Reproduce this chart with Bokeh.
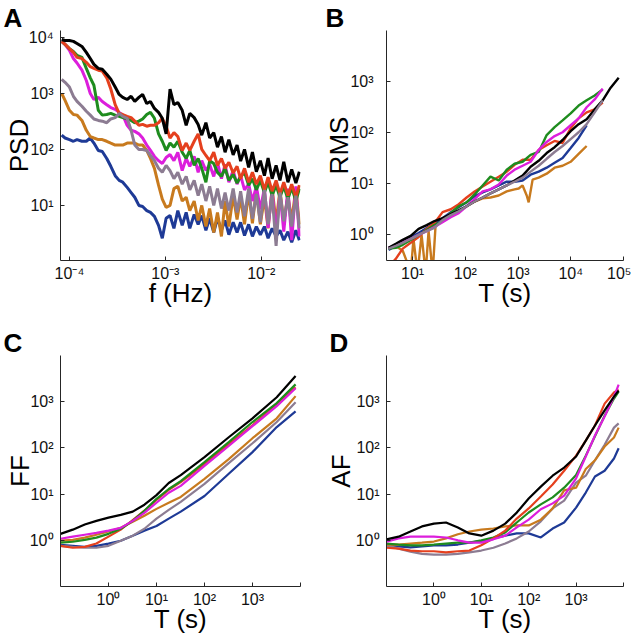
import math
from bokeh.plotting import figure
from bokeh.layouts import gridplot
from bokeh.models import Range1d, FixedTicker, Title
from bokeh.embed import file_html
from bokeh.resources import INLINE

FONT = "Liberation Sans"
C_BLACK = "#000000"
C_RED = "#e5401e"
C_GREEN = "#1e8c1e"
C_MAGENTA = "#dc1edc"
C_GRAY = "#8c7c92"
C_ORANGE = "#c87a1e"
C_BLUE = "#1e3a96"

# ---------------- Panel A : PSD ----------------
psd_freq = [8.3e-5, 9e-5, 1e-4, 1.1e-4, 1.2e-4, 1.35e-4, 1.5e-4, 1.65e-4, 1.8e-4, 2e-4,
            2.2e-4, 2.45e-4, 2.7e-4, 3e-4, 3.3e-4, 3.6e-4, 4e-4, 4.4e-4, 4.8e-4, 5.3e-4,
            5.8e-4, 6.4e-4, 7e-4, 7.7e-4, 8.5e-4, 9.3e-4, 1.02e-3, 1.12e-3, 1.23e-3, 1.35e-3,
            1.5e-3, 1.65e-3, 1.8e-3, 2e-3, 2.2e-3, 2.4e-3, 2.65e-3, 2.9e-3, 3.2e-3, 3.5e-3,
            3.85e-3, 4.2e-3, 4.6e-3, 5.1e-3, 5.6e-3, 6.1e-3, 6.7e-3, 7.4e-3, 8.1e-3, 8.9e-3,
            9.8e-3, 1.08e-2, 1.18e-2, 1.3e-2, 1.43e-2, 1.57e-2, 1.72e-2, 1.9e-2, 2.08e-2, 2.3e-2,
            2.5e-2]
psd_black = [9200, 8800, 8800, 8500, 7800, 6900, 5400, 4200, 3300, 2800, 2700, 2200, 1800, 1300, 960,
             850, 780, 890, 720, 850, 960, 660, 720, 540, 460, 360, 190, 1200, 630, 690, 500, 270,
             440, 370, 280, 180, 300, 160, 200, 110, 170, 89, 150, 80, 120, 62, 100, 48, 90, 40,
             63, 34, 70, 30, 52, 28, 60, 26, 44, 25, 40]
psd_red = [8500, 7500, 6300, 5400, 4400, 4200, 3600, 3000, 2800, 2600, 2500, 1900, 1200, 630, 440,
           420, 390, 370, 320, 270, 280, 260, 270, 270, 300, 360, 260, 160, 200, 170, 96, 130, 96,
           140, 190, 100, 78, 63, 89, 52, 69, 46, 59, 38, 50, 30, 46, 26, 39, 24, 34, 19, 32, 18,
           28, 16, 26, 15, 24, 14, 23]
psd_green = [8500, 7500, 6300, 5600, 4800, 4400, 2800, 1900, 1400, 500, 410, 420, 440, 410, 390,
             370, 350, 330, 300, 320, 350, 420, 460, 360, 190, 140, 96, 130, 110, 140, 89, 69, 96,
             52, 69, 46, 26, 63, 56, 39, 33, 46, 28, 36, 25, 33, 39, 23, 30, 19, 28, 17, 26, 15,
             23, 14, 22, 13, 21, 12, 20]
psd_magenta = [8500, 7500, 5900, 4200, 3500, 2600, 1700, 1000, 780, 850, 720, 630, 560, 520, 460,
               410, 270, 220, 210, 190, 160, 120, 96, 75, 63, 56, 72, 81, 63, 89, 42, 69, 50, 75,
               39, 63, 42, 54, 33, 59, 30, 54, 26, 42, 24, 34, 19, 24, 12, 22, 8.5, 20, 4.0, 19,
               3.0, 17, 3.4, 20, 2.4, 22, 2.8]
psd_gray = [1780, 1580, 1300, 890, 720, 590, 480, 410, 350, 330, 320, 300, 350, 370, 440, 390, 360,
            220, 120, 100, 100, 96, 78, 63, 46, 39, 52, 42, 30, 39, 24, 33, 19, 28, 15, 24, 12, 22,
            10, 20, 8.8, 17, 8.1, 20, 7.5, 18, 6.4, 20, 5.8, 16, 5.0, 19, 4.6, 16, 1.9, 17, 5.2,
            14, 4.2, 15, 3.9]
psd_orange = [1000, 750, 500, 420, 410, 330, 220, 170, 160, 150, 150, 140, 130, 120, 120, 120, 130,
              130, 130, 120, 120, 96, 69, 46, 23, 13, 9.2, 10, 20, 22, 12, 14, 8.1, 12, 5.4, 10,
              4.2, 8.8, 3.3, 7.5, 2.8, 12, 4.2, 15, 5.6, 14, 4.6, 17, 4.8, 19, 4.6, 14, 3.9, 20,
              5.0, 19, 5.0, 15, 5.4, 20, 4.6]
psd_blue = [180, 160, 150, 140, 150, 140, 140, 160, 130, 96, 92, 69, 50, 34, 28, 26, 21, 17, 14, 10,
            9.6, 8.1, 7.5, 6.4, 4.4, 2.6, 5.9, 6.6, 3.9, 8.1, 4.4, 7.5, 3.9, 6.9, 4.6, 6.6, 3.6,
            5.9, 3.3, 5.9, 3.6, 5.4, 3.0, 5.0, 3.3, 5.0, 2.9, 4.6, 2.8, 4.2, 3.0, 4.2, 2.6, 3.9,
            2.8, 3.6, 2.4, 3.4, 2.2, 3.6, 2.4]

# ---------------- Panel B : RMS ----------------
rms_T = [3.5, 4.8, 6.5, 9.2, 13, 18.5, 26, 37, 53, 75, 106, 150, 213, 300, 430, 610, 860, 1220,
         1730, 2460, 3490, 4940, 7000, 9950, 14100, 20000, 28400, 40300, 57100, 81100]
rms_black = [0.56, 0.67, 0.80, 0.96, 1.31, 1.56, 1.87, 2.13, 2.55, 3.04, 3.64, 4.5, 5.4, 6.5, 7.8,
             9.3, 11.6, 14.5, 21.6, 28.2, 40, 52, 72, 107, 147, 183, 286, 430, 760, 1190]
rms_gray = [0.54, 0.61, 0.70, 0.84, 1.0, 1.19, 1.37, 1.95, 2.44, 2.91, 3.64, 4.5, 5.4, 6.5, 7.8,
            9.3, 11, 13.2, 17.3, 22.6, 30.9, 42, 55, 75, 102, 147, 250, 430]
rms_blue = [0.51, 0.61, 0.73, 0.91, 1.09, 1.37, 1.63, 2.13, 2.79, 3.48, 4.35, 5.7, 6.8, 7.8, 9.3,
            11, 11, 11.6, 15.1, 17.3, 20.7, 25.8, 32, 50, 79, 140]
rms_green = [0.54, 0.56, 0.64, 0.80, 1.0, 1.25, 1.56, 1.87, 2.66, 3.64, 4.35, 6.2, 9.3, 13.8, 11.6,
             18.9, 24.7, 27, 37, 42, 90, 129, 175, 240, 340, 430, 535, 700]
rms_red = [0.24, 0.34, 0.54, 0.70, 0.91, 1.31, 1.71, 2.79, 3.18, 3.98, 5.4, 7.1, 8.9, 11, 13.8,
           17.3, 23.6, 29.5, 29.5, 46, 57, 69, 63, 123, 191, 250, 286, 390]
rms_magenta = [0.56, 0.64, 0.73, 0.84, 1.0, 1.19, 1.43, 1.78, 2.23, 2.66, 3.64, 5.0, 7.1, 7.8, 9.7,
               14.5, 18.9, 22.6, 27, 46, 66, 86, 102, 140, 191, 315, 447, 730]
rms_orange_T = [3.5, 4.8, 6.5, 7.7, 9.2, 10.4, 12.4, 14.8, 17.7, 20.1, 24, 27.3, 37, 53, 75, 106,
                150, 213, 300, 430, 610, 860, 1030, 1220, 1460, 1590, 1890, 2460, 3490, 4940,
                7000, 9950, 14100, 20000]
rms_orange = [0.54, 0.61, 0.49, 0.31, 0.18, 0.84, 0.18, 1.0, 0.18, 1.19, 0.18, 1.56, 2.04, 2.44,
              2.91, 3.64, 4.5, 5.2, 5.4, 5.9, 7.1, 7.8, 8.1, 9.3, 5.9, 4.35, 12.1, 13.2, 15.8,
              20.7, 22.6, 27, 38.5, 55]

# ---------------- Panel C : FF ----------------
ff_T = [0.1, 0.18, 0.32, 0.56, 1, 1.8, 3.2, 5.6, 10, 18, 32, 100, 320, 1000, 3200, 7900]
ff_black = [1.38, 1.70, 2.19, 2.63, 3.09, 3.55, 4.17, 5.9, 9.5, 17.4, 25.7, 63, 170, 437, 1250, 3600]
ff_red = [0.76, 0.69, 0.72, 0.85, 1.2, 1.70, 2.75, 4.37, 7.5, 12.3, 18.2, 44.7, 120, 309, 870, 2040]
ff_green = [0.89, 0.93, 1.02, 1.14, 1.38, 1.78, 2.63, 4.37, 7.9, 12.9, 19.1, 49, 133, 363, 933, 2370]
ff_magenta = [1.08, 1.2, 1.32, 1.45, 1.62, 1.86, 2.63, 3.94, 6.5, 10.7, 15.1, 41, 110, 295, 800, 1950]
ff_orange = [0.98, 1.02, 1.14, 1.32, 1.55, 1.86, 2.51, 3.39, 4.79, 6.5, 8.7, 21.4, 57, 162, 437, 1320]
ff_gray = [0.76, 0.72, 0.69, 0.69, 0.76, 0.98, 1.26, 1.78, 2.95, 4.57, 6.8, 16.6, 46.8, 126, 363, 977]
ff_blue = [0.80, 0.76, 0.72, 0.76, 0.85, 0.98, 1.26, 1.62, 2.04, 2.95, 4.17, 9.1, 27.5, 81, 282, 617]

# ---------------- Panel D : AF ----------------
af_T = [0.1, 0.18, 0.32, 0.56, 1, 1.8, 3.2, 5.6, 10, 18, 32, 56, 100, 180, 320, 560, 1000, 1600,
        2500, 4000, 6300, 7900]
af_black = [1.05, 1.2, 1.55, 2.0, 2.3, 2.43, 1.9, 1.41, 1.26, 1.62, 2.3, 3.98, 8.0, 14.5, 25, 37.6,
            65, 144, 305, 650, 1290, 1740]
af_red = [0.69, 0.66, 0.60, 0.58, 0.58, 0.55, 0.58, 0.60, 0.78, 1.10, 1.62, 2.95, 4.9, 8.9, 16.2,
          32, 68, 144, 305, 910, 1580, 1820]
af_green = [0.85, 0.81, 0.78, 0.78, 0.81, 0.85, 0.89, 0.89, 1.0, 1.15, 1.48, 2.43, 4.0, 6.0, 8.5,
            13.8, 26, 68, 178, 500, 1170, 1660]
af_magenta = [0.93, 1.10, 1.2, 1.2, 1.2, 1.15, 1.0, 0.89, 0.89, 1.05, 1.26, 1.9, 2.8, 4.7, 6.3, 9.3,
              22, 65, 186, 480, 1290, 2350]
af_orange = [0.81, 0.81, 0.85, 0.89, 0.94, 1.10, 1.35, 1.55, 1.7, 1.8, 2.0, 2.1, 2.1, 2.8, 4.9, 12,
             13.8, 35, 54, 107, 168, 275]
af_gray = [0.78, 0.66, 0.57, 0.51, 0.49, 0.49, 0.51, 0.55, 0.60, 0.69, 0.85, 1.10, 1.55, 2.57, 4.9,
           7.2, 17.8, 25, 54, 117, 275, 340]
af_blue = [0.78, 0.74, 0.70, 0.74, 0.78, 0.78, 0.81, 0.89, 0.96, 1.10, 1.26, 1.41, 1.41, 1.15, 1.8,
           2.43, 5.1, 10.8, 24, 32, 59, 98]

# ---------------- tick labels ----------------
a_xticks = [1e-4, 1e-3, 1e-2]
a_xlabels = ["10\u207b\u2074", "10\u207b\u00b3", "10\u207b\u00b2"]
a_yticks = [10, 100, 1000, 10000]
a_ylabels = ["10\u00b9", "10\u00b2", "10\u00b3", "10\u2074"]
b_xticks = [10, 100, 1000, 10000, 100000]
b_xlabels = ["10\u00b9", "10\u00b2", "10\u00b3", "10\u2074", "10\u2075"]
b_yticks = [1, 10, 100, 1000]
b_ylabels = ["10\u2070", "10\u00b9", "10\u00b2", "10\u00b3"]
cd_xticks = [1, 10, 100, 1000, 10000]
cd_xlabels = ["10\u2070", "10\u00b9", "10\u00b2", "10\u00b3", ""]
cd_yticks = [1, 10, 100, 1000]
cd_ylabels = ["10\u2070", "10\u00b9", "10\u00b2", "10\u00b3"]


def make_fig(w, h, left, right, top, bottom, xr, yr, xt, xl, yt, yl, yso, ylso,
             letter, letter_offset, xlabel, ylabel):
    p = figure(width=w, height=h, x_axis_type="log", y_axis_type="log",
               x_range=Range1d(*xr), y_range=Range1d(*yr),
               output_backend="svg", toolbar_location=None,
               min_border_left=left, min_border_right=right,
               min_border_top=top, min_border_bottom=bottom)
    p.outline_line_color = None
    p.xgrid.visible = False
    p.ygrid.visible = False
    for ax, ticks, labels, lab in ((p.xaxis[0], xt, xl, xlabel), (p.yaxis[0], yt, yl, ylabel)):
        ax.ticker = FixedTicker(ticks=ticks, minor_ticks=[])
        ax.major_label_overrides = dict(zip(ticks, labels))
        ax.major_tick_in = 4
        ax.major_tick_out = 0
        ax.minor_tick_line_color = None
        ax.axis_line_color = "#262626"
        ax.major_tick_line_color = "#262626"
        ax.major_label_text_font = FONT
        ax.major_label_text_font_size = "16px"
        ax.major_label_text_color = "#111111"
        ax.axis_label = lab
        ax.axis_label_text_font = FONT
        ax.axis_label_text_font_size = "26px"
        ax.axis_label_text_font_style = "normal"
        ax.axis_label_text_color = "#000000"
    p.xaxis[0].major_label_standoff = 4
    p.xaxis[0].axis_label_standoff = -7
    p.yaxis[0].major_label_standoff = yso
    p.yaxis[0].axis_label_standoff = ylso
    p.title = Title(text=letter, align="left", offset=letter_offset, standoff=-4,
                    text_font=FONT, text_font_size="26px", text_font_style="bold",
                    text_color="#000000")
    return p


# Panel A
pa = make_fig(320, 320, 59, 18, 30, 60, (8.07e-5, 0.0257), (1.04, 13300),
              a_xticks, a_xlabels, a_yticks, a_ylabels, 7, -8,
              "A", -57, "f (Hz)", "PSD")
for ys, c in ((psd_blue, C_BLUE), (psd_orange, C_ORANGE), (psd_magenta, C_MAGENTA),
              (psd_green, C_GREEN), (psd_red, C_RED), (psd_gray, C_GRAY), (psd_black, C_BLACK)):
    pa.line(psd_freq, ys, line_color=c, line_width=3)

# Panel B
pb = make_fig(311, 320, 66, 8, 30, 58, (3.2, 100000), (0.316, 10000),
              b_xticks, b_xlabels, b_yticks, b_ylabels, 13, -7,
              "B", -61, "T (s)", "RMS")
pb.line(rms_orange_T, rms_orange, line_color=C_ORANGE, line_width=2.4)
for ys, c in ((rms_blue, C_BLUE), (rms_red, C_RED), (rms_green, C_GREEN),
              (rms_magenta, C_MAGENTA), (rms_black, C_BLACK), (rms_gray, C_GRAY)):
    pb.line(rms_T[:len(ys)], ys, line_color=c, line_width=2.4)

# Panel C
pc = make_fig(320, 319, 59, 20, 34, 53, (0.1, 10000), (0.1, 10000),
              cd_xticks, cd_xlabels, cd_yticks, cd_ylabels, 7, -8,
              "C", -57, "T (s)", "FF")
for ys, c in ((ff_blue, C_BLUE), (ff_gray, C_GRAY), (ff_orange, C_ORANGE), (ff_red, C_RED),
              (ff_green, C_GREEN), (ff_magenta, C_MAGENTA), (ff_black, C_BLACK)):
    pc.line(ff_T, ys, line_color=c, line_width=2.2)

# Panel D
pd_ = make_fig(311, 319, 64, 5, 35, 53, (0.1, 10000), (0.1, 10000),
               cd_xticks, cd_xlabels, cd_yticks, cd_ylabels, 7, -3,
               "D", -57, "T (s)", "AF")
for ys, c in ((af_blue, C_BLUE), (af_gray, C_GRAY), (af_orange, C_ORANGE), (af_green, C_GREEN),
              (af_red, C_RED), (af_magenta, C_MAGENTA), (af_black, C_BLACK)):
    pd_.line(af_T, ys, line_color=c, line_width=2.2)

grid = gridplot([[pa, pb], [pc, pd_]], toolbar_location=None)
open("out.html", "w").write(file_html(grid, INLINE))
